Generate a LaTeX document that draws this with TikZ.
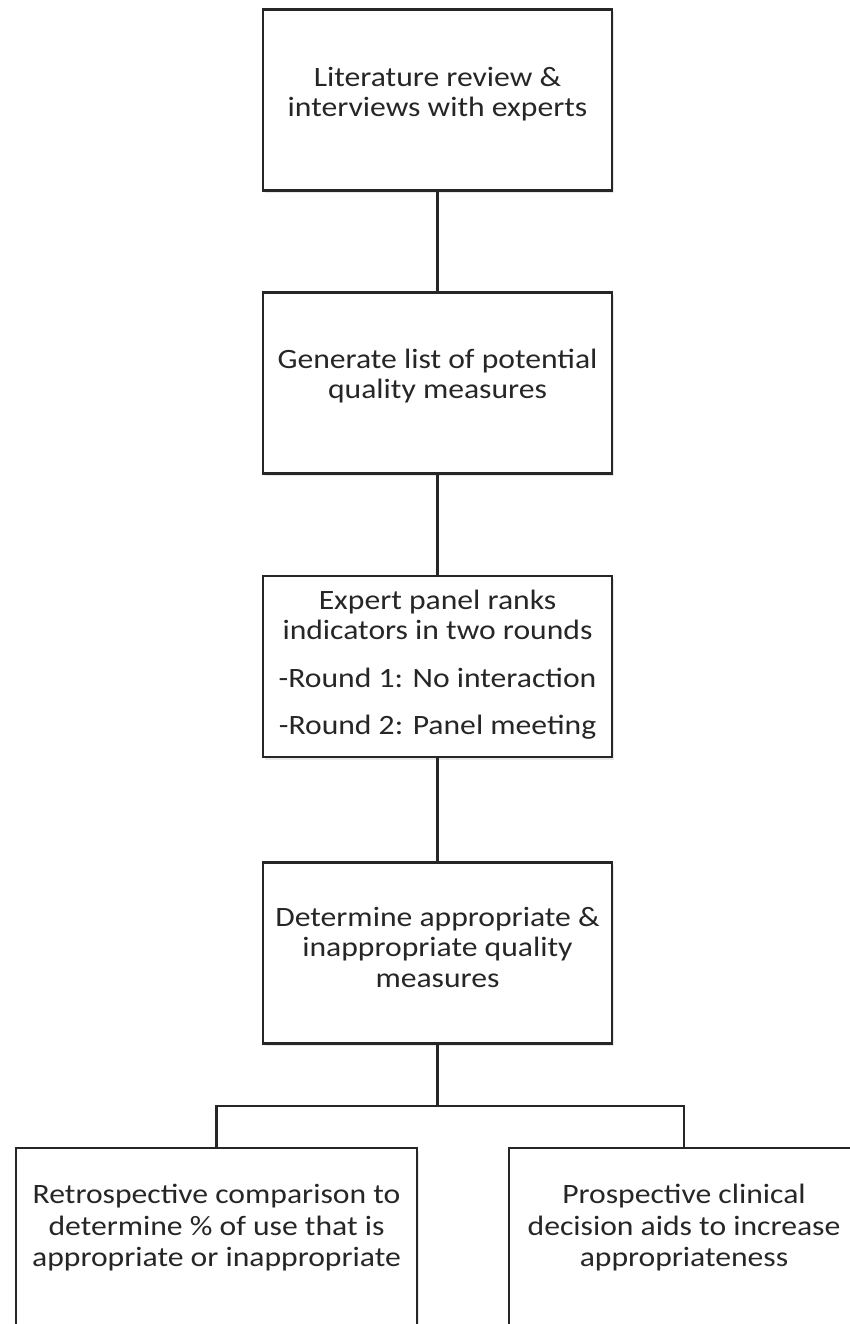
\documentclass[tikz,border=0pt]{standalone}
\usepackage{fontspec}
\setmainfont{Carlito}[FakeStretch=1.13]
\usetikzlibrary{shadows}
\begin{document}
\begin{tikzpicture}[x=1pt,y=-1pt,
  line/.style={draw=black!85, line width=2.2pt},
  box/.style={line, rectangle, fill=white, inner sep=0pt,
    drop shadow={opacity=0.18, shadow xshift=1.5pt, shadow yshift=-2.5pt}},
  wbox/.style={box, minimum width=349pt, minimum height=181pt},
  txt/.style={align=center, inner sep=0pt, text=black!85,
    font=\fontsize{28}{30.5}\selectfont}]
\useasboundingbox (0,0) rectangle (850,1324);
\clip (0,0) rectangle (850,1324);
\fill[white] (0,0) rectangle (850,1324);
\node[wbox] (b1) at (437.5,100) {};
\node[wbox] (b2) at (437.5,383) {};
\node[wbox] (b3) at (437.5,666.5) {};
\node[wbox] (b4) at (437.5,953) {};
\node[box, minimum width=401pt, minimum height=200pt, anchor=north] (b5) at (216.5,1147) {};
\node[box, minimum width=350pt, minimum height=200pt, anchor=north] (b6) at (684,1147) {};
\node[txt] (t1) at ([yshift=6pt]b1.center) {Literature review \&\\interviews with experts};
\node[txt] (t2) at ([yshift=7pt]b2.center) {Generate list of potential\\quality measures};
\node[txt] (t3) at ([yshift=2pt]b3.center) {Expert panel ranks\\indicators in two rounds\\[17pt]-Round 1: No interaction\\[17pt]-Round 2: Panel meeting};
\node[txt] (t4) at ([yshift=6pt]b4.center) {Determine appropriate \&\\inappropriate quality\\measures};
\node[txt, font=\fontsize{28}{31.5}\selectfont] (t5) at (216.5,1228) {Retrospective comparison to\\determine \% of use that is\\appropriate or inappropriate};
\node[txt, font=\fontsize{28}{31.5}\selectfont] (t6) at (684,1228) {Prospective clinical\\decision aids to increase\\appropriateness};
\coordinate (j) at (437.5,1106);
\draw[line] (b1.south) -- (b2.north);
\draw[line] (b2.south) -- (b3.north);
\draw[line] (b3.south) -- (b4.north);
\draw[line] (b4.south) -- (j);
\draw[line] (b5.north) |- (j) -| (b6.north);
\end{tikzpicture}
\end{document}
